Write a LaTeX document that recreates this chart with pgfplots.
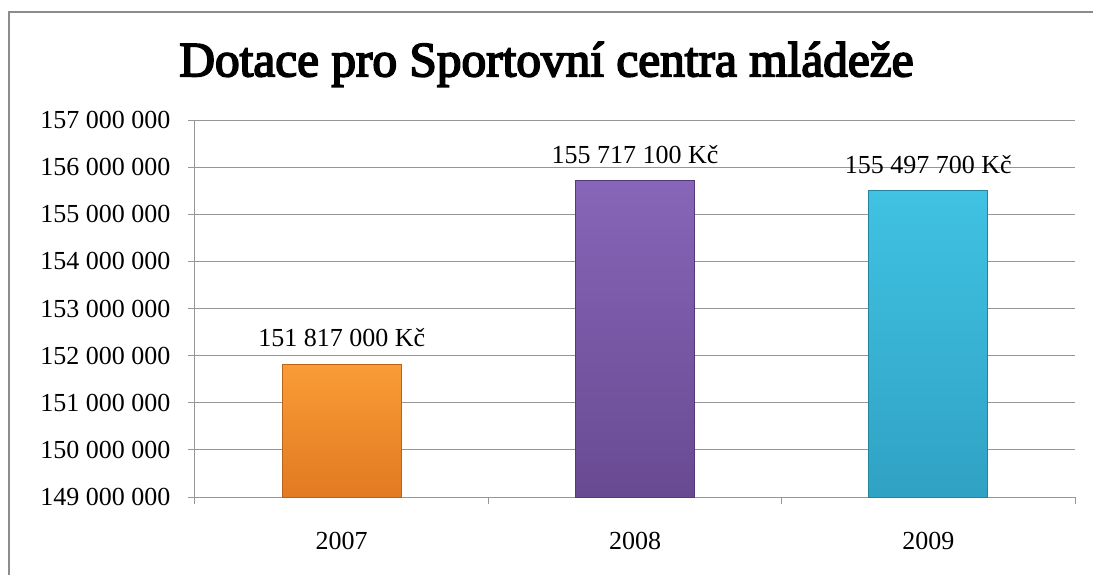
\documentclass[border=0pt]{standalone}
\usepackage{pgfplots}
\pgfplotsset{compat=1.18}
\usepackage{fontspec}
\setmainfont{Liberation Serif}
\newfontfamily\titlefont{Liberation Serif}[FakeBold=3.5]
\definecolor{gridc}{HTML}{969696}
\definecolor{framec}{HTML}{8C8C8C}
\definecolor{orangeT}{HTML}{F99C36}
\definecolor{orangeB}{HTML}{E27A22}
\definecolor{orangee}{HTML}{B8651C}
\definecolor{purpleT}{HTML}{8765B8}
\definecolor{purpleB}{HTML}{684A92}
\definecolor{purplee}{HTML}{54397A}
\definecolor{cyanT}{HTML}{40C2E2}
\definecolor{cyanB}{HTML}{30A2C4}
\definecolor{cyane}{HTML}{25839F}
\begin{document}
\begin{tikzpicture}[x=1pt,y=1pt]
\useasboundingbox (-146.25,-58.5) rectangle (673.5,372.75);
\draw[color=framec, line width=1.5pt] (-139.5,-80) -- (-139.5,363.75) -- (673.5,363.75);
\begin{axis}[
  scale only axis, width=660pt, height=282.75pt,
  at={(0,0)}, anchor=south west,
  xmin=-0.5, xmax=2.5, ymin=149000000, ymax=157000000,
  ybar, bar width=89.25pt, bar shift=0pt,
  axis lines*=left,
  axis line style={gridc, line width=0.75pt},
  scaled y ticks=false,
  ytick={149000000,150000000,151000000,152000000,153000000,154000000,155000000,156000000,157000000},
  yticklabels={149 000 000,150 000 000,151 000 000,152 000 000,153 000 000,154 000 000,155 000 000,156 000 000,157 000 000},
  ymajorgrids, grid style={gridc, line width=0.75pt},
  xtick={-0.5,0.5,1.5,2.5},
  x tick label as interval,
  xticklabels={2007,2008,2009,},
  tick align=outside, major tick length=5.25pt,
  tick style={gridc, line width=0.75pt},
  tick label style={font=\fontsize{19.5}{22}\selectfont, inner sep=0pt},
  yticklabel style={anchor=east, xshift=-13pt},
  xticklabel style={anchor=base, yshift=-34pt},
  nodes near coords, point meta=explicit symbolic,
  nodes near coords style={anchor=base, yshift=13pt, inner sep=0pt, font=\fontsize{19.5}{22}\selectfont, text=black},
]
\addplot[top color=orangeT, bottom color=orangeB, draw=orangee, line width=0.6pt] coordinates {(0,151817000) [151 817 000 Kč]};
\addplot[top color=purpleT, bottom color=purpleB, draw=purplee, line width=0.6pt] coordinates {(1,155717100) [155 717 100 Kč]};
\addplot[top color=cyanT, bottom color=cyanB, draw=cyane, line width=0.6pt] coordinates {(2,155497700) [155 497 700 Kč]};
\end{axis}
\node[anchor=base, font=\fontsize{37}{41}\selectfont\titlefont] at (263.6,315.5) {Dotace pro Sportovní centra mládeže};
\end{tikzpicture}
\end{document}
